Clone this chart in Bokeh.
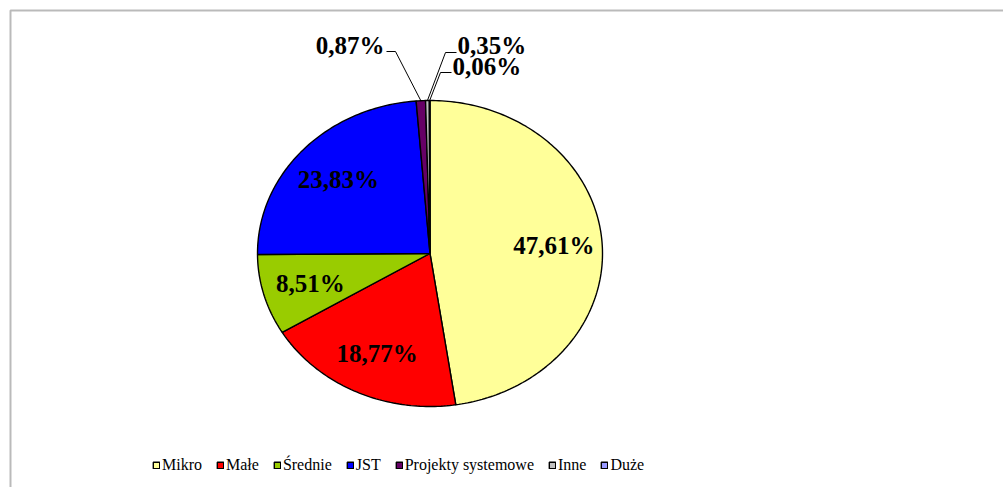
import numpy as np
from bokeh.plotting import figure
from bokeh.models import ColumnDataSource, Range1d, Legend, LegendItem, BoxAnnotation
from bokeh.core.properties import value
from bokeh.embed import file_html
from bokeh.resources import INLINE

# ---- data ----
categories = ["Mikro", "Małe", "Średnie", "JST", "Projekty systemowe", "Inne", "Duże"]
shares = [47.61, 18.77, 8.51, 23.83, 0.87, 0.35, 0.06]
colors = ["#FFFF99", "#FF0000", "#99CC00", "#0000FF", "#660066", "#C0C0C0", "#9999FF"]

# ---- figure in page-pixel-like coordinates ----
W, H = 1003, 487
p = figure(width=W, height=H, output_backend="svg", toolbar_location=None,
           x_range=Range1d(0, W), y_range=Range1d(H, 0),
           x_axis_location=None, y_axis_location=None, min_border=0)
p.grid.visible = False
p.outline_line_color = None
p.background_fill_color = "white"
p.border_fill_color = "white"

# chart-area border (extends past the window on right and bottom)
p.add_layout(BoxAnnotation(left=10, right=1300, top=10, bottom=800,
                           fill_color=None, fill_alpha=0,
                           line_color="#1a1a1a", line_width=2))

# ---- pie geometry (ellipse, clockwise from 12 o'clock) ----
cx, cy, rx, ry = 429.5, 253.0, 172.5, 153.0
vals = np.array(shares, dtype=float)
cum = np.concatenate([[0.0], np.cumsum(vals)]) / vals.sum() * 2 * np.pi

xs, ys = [], []
for a0, a1 in zip(cum[:-1], cum[1:]):
    n = max(2, int(np.degrees(a1 - a0)) + 2)
    t = np.linspace(a0, a1, n)
    xs.append([cx] + list(cx + rx * np.sin(t)))
    ys.append([cy] + list(cy - ry * np.cos(t)))

src = ColumnDataSource(dict(xs=xs, ys=ys, color=colors, label=categories))
r = p.patches("xs", "ys", source=src, fill_color="color",
              line_color="black", line_width=1.4)

mids = (cum[:-1] + cum[1:]) / 2
texts = [f"{v:.2f}".replace(".", ",") + "%" for v in shares]

# inside labels (large slices)
inside = [0, 1, 2, 3]
k = 0.72
lab_src = ColumnDataSource(dict(
    x=[cx + k * rx * np.sin(mids[i]) for i in inside],
    y=[cy - k * ry * np.cos(mids[i]) for i in inside],
    t=[texts[i] for i in inside]))
p.text("x", "y", text="t", source=lab_src, text_font=value("Liberation Serif"),
       text_font_style="bold", text_font_size="25px", text_color="black",
       text_align="center", text_baseline="middle")

# outside labels (tiny slices) with leader lines
outside = [4, 5, 6]
label_pos = {4: (384, 45, "right"), 5: (457, 45, "left"), 6: (452, 66, "left")}
elbows = {4: [(395, 51), (386, 51)], 5: [(445, 52), (456, 52)], 6: [(440, 72), (451, 72)]}
lx, ly = [], []
for i in outside:
    ex = cx + rx * np.sin(mids[i])
    ey = cy - ry * np.cos(mids[i])
    lx.append([ex] + [e[0] for e in elbows[i]])
    ly.append([ey] + [e[1] for e in elbows[i]])
p.multi_line(lx, ly, line_color="black", line_width=1)
for align in ("left", "right"):
    ids = [i for i in outside if label_pos[i][2] == align]
    s = ColumnDataSource(dict(x=[label_pos[i][0] for i in ids],
                              y=[label_pos[i][1] for i in ids],
                              t=[texts[i] for i in ids]))
    p.text("x", "y", text="t", source=s, text_font=value("Liberation Serif"),
           text_font_style="bold", text_font_size="25px", text_color="black",
           text_align=align, text_baseline="middle")

# ---- legend ----
legend = Legend(items=[LegendItem(label=value(c), renderers=[r], index=i)
                       for i, c in enumerate(categories)],
                orientation="horizontal", location=(152, 13),
                glyph_width=8, glyph_height=8, label_standoff=2, spacing=14,
                padding=0, margin=0, border_line_color=None,
                background_fill_alpha=0, label_height=8,
                label_text_font="Liberation Serif", label_text_font_size="16px",
                label_text_color="black")
p.add_layout(legend)

open("out.html", "w").write(file_html(p, INLINE))
